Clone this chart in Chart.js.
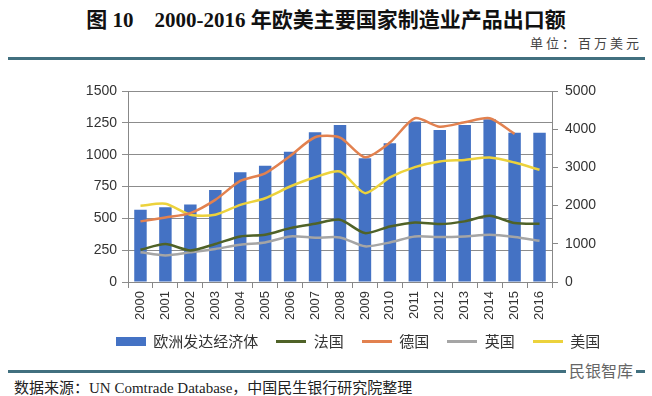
<!DOCTYPE html>
<html>
<head>
<meta charset="utf-8">
<title>图10 2000-2016年欧美主要国家制造业产品出口额</title>
<script src="https://cdn.jsdelivr.net/npm/chart.js"></script>
<style>
  body { margin: 0; width: 652px; height: 396px; background: #fff; position: relative; overflow: hidden; }
  .abs { position: absolute; }
  #title { top: 3px; left: 0; width: 652px; text-align: center; font: bold 21px "Liberation Serif", "Noto Sans CJK SC"; color: #111; white-space: pre; }
  #unit { top: 33px; right: 10px; font: 13px "Noto Sans CJK SC"; letter-spacing: 3px; color: #444; }
  .rule { left: 8px; width: 637px; height: 3px; background: #41707f; }
  #source { top: 376px; left: 14px; font: 15px "Liberation Serif", "Noto Sans CJK SC"; color: #222; white-space: pre; }
  #mark { top: 358px; left: 566px; font: 16px "Noto Sans CJK SC"; color: #666; background: #fff; padding: 0 3px; }
</style>
</head>
<body>
<div id="title" class="abs">图 10    2000-2016 年欧美主要国家制造业产品出口额</div>
<div id="unit" class="abs">单位：百万美元</div>
<div class="abs rule" style="top:57px"></div>
<div class="abs" style="top:60px;left:0;width:652px;height:303px">
  <canvas id="myChart" width="652" height="303"></canvas>
</div>
<div class="abs rule" style="top:370px"></div>
<div id="mark" class="abs">民银智库</div>
<div id="source" class="abs">数据来源：UN Comtrade Database，中国民生银行研究院整理</div>

<script>
// data
var years = ['2000','2001','2002','2003','2004','2005','2006','2007','2008','2009','2010','2011','2012','2013','2014','2015','2016'];
var europe  = [1890, 1960, 2030, 2410, 2870, 3040, 3410, 3920, 4110, 3240, 3630, 4200, 3980, 4110, 4260, 3910, 3910]; // right axis
var france  = [253, 298, 248, 298, 358, 371, 423, 457, 489, 384, 436, 468, 455, 476, 520, 463, 457];
var germany = [476, 507, 541, 645, 794, 854, 990, 1137, 1134, 980, 1095, 1286, 1220, 1254, 1286, 1163, null];
var uk      = [233, 209, 233, 259, 293, 311, 358, 348, 350, 280, 311, 358, 353, 358, 371, 353, 324];
var usa     = [598, 614, 528, 528, 606, 658, 750, 823, 868, 698, 821, 902, 946, 959, 977, 938, 881];

var leftTicks = [0, 250, 500, 750, 1000, 1250, 1500];
var rightTicks = [0, 1000, 2000, 3000, 4000, 5000];

var colors = { europe: '#4472c4', france: '#4f6228', germany: '#e2814f', uk: '#a5a5a5', usa: '#ecd23c' };

// little legend swatches: wide box for bars, thin bar for lines
function swatch(color, h) {
    var c = document.createElement('canvas');
    c.width = 30; c.height = h;
    var x = c.getContext('2d');
    x.fillStyle = color;
    x.fillRect(0, 0, 30, h);
    return c;
}

function lineSet(label, data, color) {
    return {
        type: 'line', label: label, data: data, yAxisID: 'y',
        borderColor: color, backgroundColor: color, borderWidth: 2.5,
        pointRadius: 0, tension: 0.25, fill: false, order: 0,
        swatch: swatch(color, 3)
    };
}

var tickFont = { family: 'Liberation Sans', size: 14 };
var plain = function (v) { return String(v); };

var ctx = document.getElementById('myChart').getContext('2d');
var myChart = new Chart(ctx, {
    type: 'bar',
    data: {
        labels: years,
        datasets: [
            { label: '欧洲发达经济体', data: europe, yAxisID: 'y1', backgroundColor: colors.europe,
              barPercentage: 0.5, categoryPercentage: 1, order: 1, swatch: swatch(colors.europe, 9) },
            lineSet('法国', france, colors.france),
            lineSet('德国', germany, colors.germany),
            lineSet('英国', uk, colors.uk),
            lineSet('美国', usa, colors.usa)
        ]
    },
    options: {
        responsive: false,
        devicePixelRatio: 1,
        animation: false,
        layout: { padding: { top: 31, bottom: 0, left: 0, right: 0 } },
        plugins: {
            tooltip: { enabled: false },
            legend: {
                position: 'bottom',
                labels: {
                    usePointStyle: true,
                    pointStyleWidth: 30,
                    padding: 18,
                    color: '#333',
                    font: { family: 'Noto Sans CJK SC', size: 15 },
                    sort: function (a, b) { return a.datasetIndex - b.datasetIndex; },
                    generateLabels: function (chart) {
                        var items = Chart.defaults.plugins.legend.labels.generateLabels(chart);
                        items.forEach(function (it) {
                            it.pointStyle = chart.data.datasets[it.datasetIndex].swatch;
                        });
                        return items;
                    }
                }
            }
        },
        scales: {
            x: {
                offset: true,
                grid: { offset: true, drawOnChartArea: false, tickLength: 6, color: '#888' },
                border: { color: '#888' },
                ticks: { minRotation: 90, maxRotation: 90, color: '#333', font: { family: 'Liberation Sans', size: 13 }, padding: 3 },
                afterFit: function (s) { s.height = 38; }
            },
            y: {
                position: 'left', min: 0, max: 1500,
                afterBuildTicks: function (s) { s.ticks = leftTicks.map(function (v) { return { value: v }; }); },
                grid: { color: '#8c8c8c', tickLength: 6 },
                border: { color: '#888' },
                ticks: { color: '#333', font: tickFont, padding: 5, callback: plain },
                afterFit: function (s) { s.width = 128; }
            },
            y1: {
                position: 'right', min: 0, max: 5000,
                afterBuildTicks: function (s) { s.ticks = rightTicks.map(function (v) { return { value: v }; }); },
                grid: { drawOnChartArea: false, color: '#888', tickLength: 6 },
                border: { color: '#888' },
                ticks: { color: '#333', font: tickFont, padding: 7, callback: plain },
                afterFit: function (s) { s.width = 100; }
            }
        }
    },
    plugins: [{
        id: 'shiftLegend',
        afterLayout: function (chart) {
            chart.legend.left += 32;
            chart.legend.right += 32;
            chart.legend.top -= 4;
            chart.legend.bottom -= 4;
        }
    }]
});
</script>
</body>
</html>
